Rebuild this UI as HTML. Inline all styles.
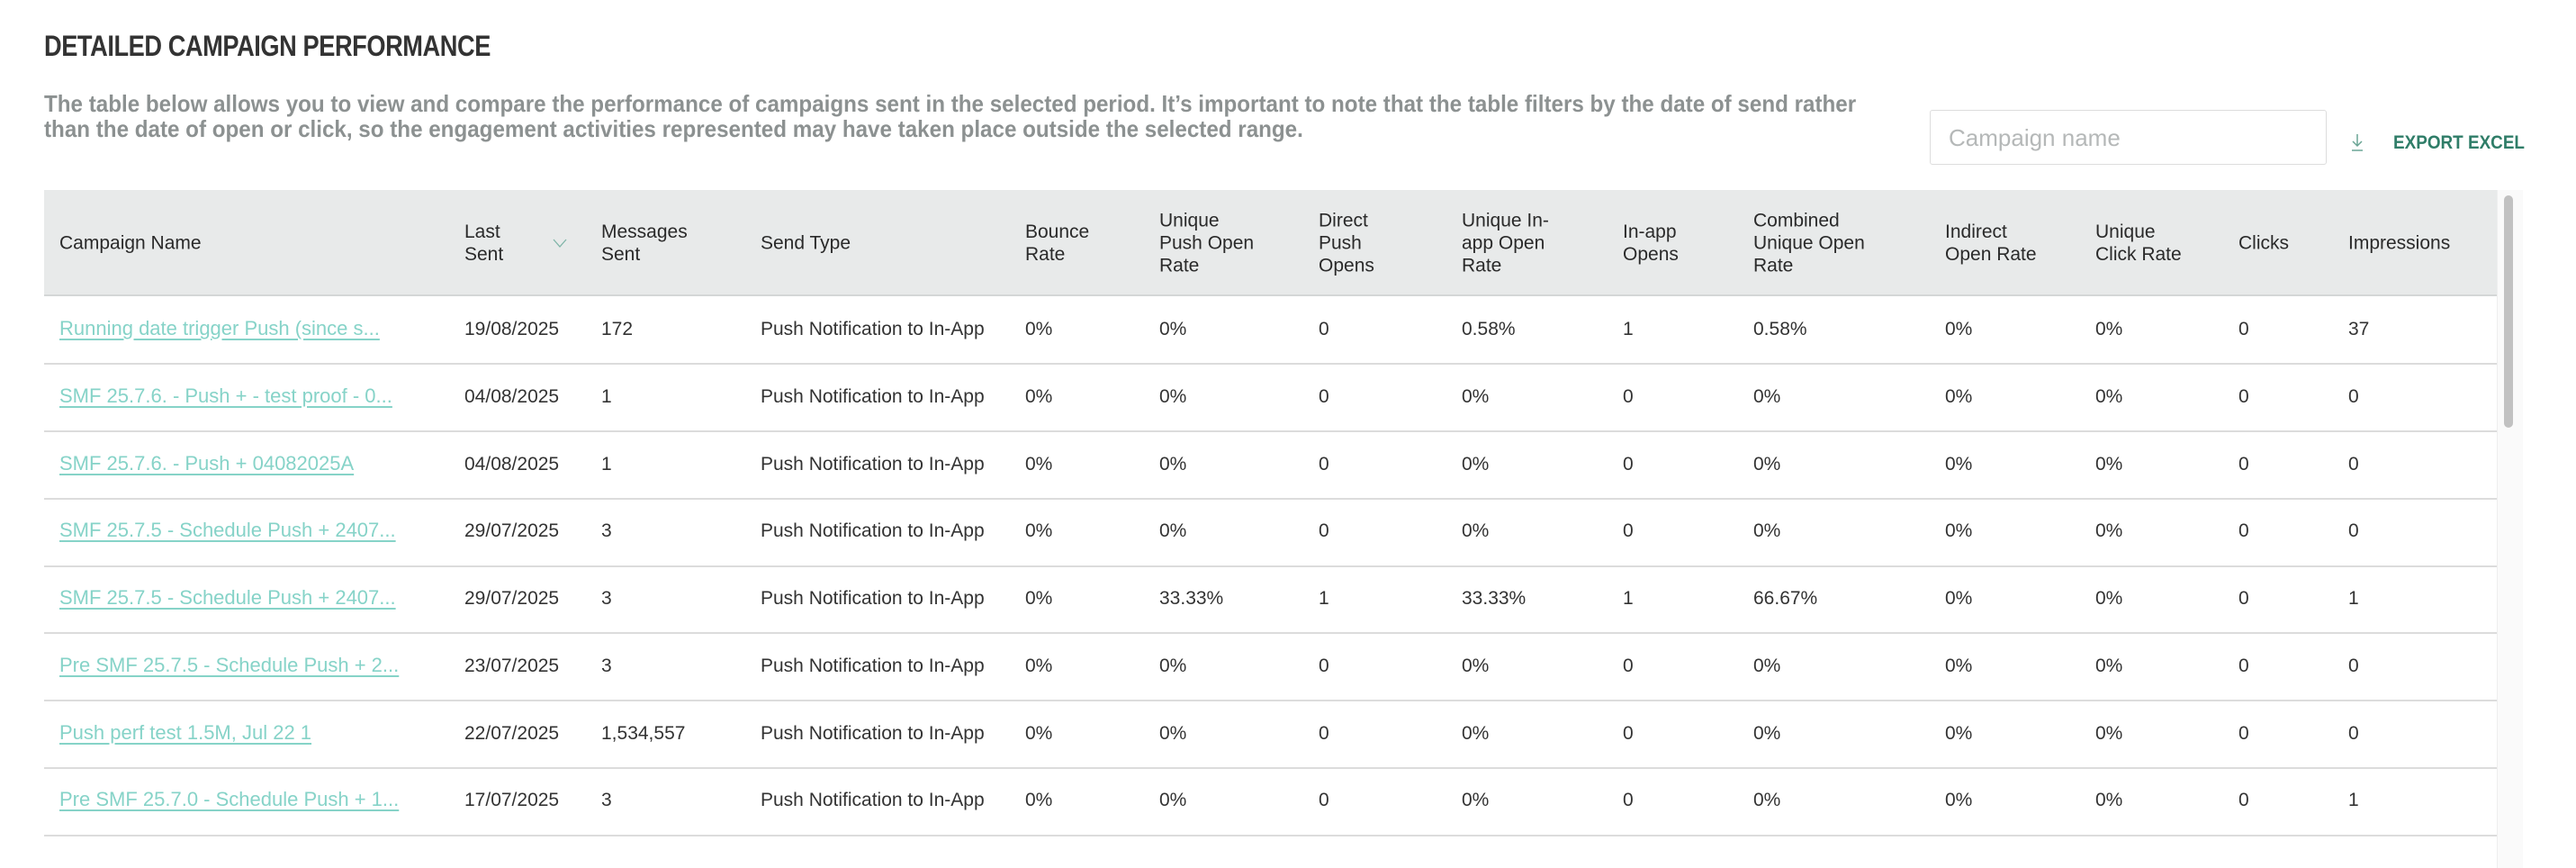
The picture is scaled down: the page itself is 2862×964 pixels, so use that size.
<!DOCTYPE html>
<html><head><meta charset="utf-8"><style>
*{margin:0;padding:0;box-sizing:border-box}
body{width:2862px;height:964px;background:#fff;position:relative;overflow:hidden;font-family:"Liberation Sans",Arial,sans-serif;color:#333}
.a{position:absolute;white-space:nowrap}
h1{position:absolute;left:49px;top:33px;font-size:32px;font-weight:bold;color:#333;letter-spacing:-0.5px;white-space:nowrap;transform:scaleX(0.85);transform-origin:left}
.desc{position:absolute;left:49px;top:101px;font-size:26px;line-height:28px;font-weight:bold;color:#8c9191;white-space:nowrap;transform:scaleX(0.93);transform-origin:left}
.search{position:absolute;left:2144px;top:122px;width:441px;height:61px;border:1.5px solid #ddd;border-radius:3px}
.search span{position:absolute;left:20px;top:15px;font-size:26px;color:#b5b8b8}
.exp{position:absolute;left:2659px;top:147px;font-size:21px;font-weight:bold;color:#2f7d68;transform:scaleX(0.9);transform-origin:left}
.thead{position:absolute;left:49px;top:211px;width:2725px;height:118px;background:#e8eaea;border-bottom:2px solid #d4d6d6}
.th{position:absolute;font-size:21px;line-height:25px;color:#2a2a2a;transform:translateY(-50%);top:270px}
.ln{position:absolute;left:49px;width:2725px;height:1.5px;background:#dcdcdc}
.r{position:absolute;left:0;width:2774px;height:40px}
.r div{position:absolute;top:8px;font-size:21px;color:#333;white-space:nowrap}
.r .c0{left:66px;top:6px;font-size:22px;color:#86d3c8;text-decoration:underline;text-decoration-thickness:2px;text-underline-offset:4px}
.c1{left:516px}.c2{left:668px}.c3{left:845px}.c4{left:1139px}.c5{left:1288px}.c6{left:1465px}.c7{left:1624px}.c8{left:1803px}.c9{left:1948px}.c10{left:2161px}.c11{left:2328px}.c12{left:2487px}.c13{left:2609px}
.track{position:absolute;left:2774px;top:211px;width:29px;height:753px;background:#fafafa;border-left:1px solid #eee}
.thumb{position:absolute;left:2782px;top:217px;width:10px;height:258px;background:#c1c1c1;border-radius:5px}
</style></head><body>
<h1>DETAILED CAMPAIGN PERFORMANCE</h1>
<div class="desc">The table below allows you to view and compare the performance of campaigns sent in the selected period. It’s important to note that the table filters by the date of send rather<br>than the date of open or click, so the engagement activities represented may have taken place outside the selected range.</div>
<div class="search"><span>Campaign name</span></div>
<svg class="a" style="left:2612px;top:148px" width="14" height="20" viewBox="0 0 14 20"><path d="M7 1v13M2 9l5 5 5-5M1 19h12" stroke="#6aa595" stroke-width="1.5" fill="none"/></svg>
<div class="a exp">EXPORT EXCEL</div>
<div class="thead"></div>
<div class="track"></div><div class="thumb"></div>
<div class="a th" style="left:66px">Campaign Name</div>
<div class="a th" style="left:516px">Last<br>Sent</div>
<svg class="a" style="left:614px;top:265px" width="16" height="10"><path d="M1 1l7 8 7-8" stroke="#7fb5a8" stroke-width="1.3" fill="none"/></svg>
<div class="a th" style="left:668px">Messages<br>Sent</div>
<div class="a th" style="left:845px">Send Type</div>
<div class="a th" style="left:1139px">Bounce<br>Rate</div>
<div class="a th" style="left:1288px">Unique<br>Push Open<br>Rate</div>
<div class="a th" style="left:1465px">Direct<br>Push<br>Opens</div>
<div class="a th" style="left:1624px">Unique In-<br>app Open<br>Rate</div>
<div class="a th" style="left:1803px">In-app<br>Opens</div>
<div class="a th" style="left:1948px">Combined<br>Unique Open<br>Rate</div>
<div class="a th" style="left:2161px">Indirect<br>Open Rate</div>
<div class="a th" style="left:2328px">Unique<br>Click Rate</div>
<div class="a th" style="left:2487px">Clicks</div>
<div class="a th" style="left:2609px">Impressions</div>

<div class="ln" style="top:403px"></div><div class="ln" style="top:478px"></div><div class="ln" style="top:553px"></div><div class="ln" style="top:628px"></div><div class="ln" style="top:702px"></div><div class="ln" style="top:777px"></div><div class="ln" style="top:852px"></div><div class="ln" style="top:927px"></div>

<div class="r" style="top:346px"><div class="c0">Running date trigger Push (since s...</div><div class="c1">19/08/2025</div><div class="c2">172</div><div class="c3">Push Notification to In-App</div><div class="c4">0%</div><div class="c5">0%</div><div class="c6">0</div><div class="c7">0.58%</div><div class="c8">1</div><div class="c9">0.58%</div><div class="c10">0%</div><div class="c11">0%</div><div class="c12">0</div><div class="c13">37</div></div>
<div class="r" style="top:421px"><div class="c0">SMF 25.7.6. - Push + - test proof - 0...</div><div class="c1">04/08/2025</div><div class="c2">1</div><div class="c3">Push Notification to In-App</div><div class="c4">0%</div><div class="c5">0%</div><div class="c6">0</div><div class="c7">0%</div><div class="c8">0</div><div class="c9">0%</div><div class="c10">0%</div><div class="c11">0%</div><div class="c12">0</div><div class="c13">0</div></div>
<div class="r" style="top:496px"><div class="c0">SMF 25.7.6. - Push + 04082025A</div><div class="c1">04/08/2025</div><div class="c2">1</div><div class="c3">Push Notification to In-App</div><div class="c4">0%</div><div class="c5">0%</div><div class="c6">0</div><div class="c7">0%</div><div class="c8">0</div><div class="c9">0%</div><div class="c10">0%</div><div class="c11">0%</div><div class="c12">0</div><div class="c13">0</div></div>
<div class="r" style="top:570px"><div class="c0">SMF 25.7.5 - Schedule Push + 2407...</div><div class="c1">29/07/2025</div><div class="c2">3</div><div class="c3">Push Notification to In-App</div><div class="c4">0%</div><div class="c5">0%</div><div class="c6">0</div><div class="c7">0%</div><div class="c8">0</div><div class="c9">0%</div><div class="c10">0%</div><div class="c11">0%</div><div class="c12">0</div><div class="c13">0</div></div>
<div class="r" style="top:645px"><div class="c0">SMF 25.7.5 - Schedule Push + 2407...</div><div class="c1">29/07/2025</div><div class="c2">3</div><div class="c3">Push Notification to In-App</div><div class="c4">0%</div><div class="c5">33.33%</div><div class="c6">1</div><div class="c7">33.33%</div><div class="c8">1</div><div class="c9">66.67%</div><div class="c10">0%</div><div class="c11">0%</div><div class="c12">0</div><div class="c13">1</div></div>
<div class="r" style="top:720px"><div class="c0">Pre SMF 25.7.5 - Schedule Push + 2...</div><div class="c1">23/07/2025</div><div class="c2">3</div><div class="c3">Push Notification to In-App</div><div class="c4">0%</div><div class="c5">0%</div><div class="c6">0</div><div class="c7">0%</div><div class="c8">0</div><div class="c9">0%</div><div class="c10">0%</div><div class="c11">0%</div><div class="c12">0</div><div class="c13">0</div></div>
<div class="r" style="top:795px"><div class="c0">Push perf test 1.5M, Jul 22 1</div><div class="c1">22/07/2025</div><div class="c2">1,534,557</div><div class="c3">Push Notification to In-App</div><div class="c4">0%</div><div class="c5">0%</div><div class="c6">0</div><div class="c7">0%</div><div class="c8">0</div><div class="c9">0%</div><div class="c10">0%</div><div class="c11">0%</div><div class="c12">0</div><div class="c13">0</div></div>
<div class="r" style="top:869px"><div class="c0">Pre SMF 25.7.0 - Schedule Push + 1...</div><div class="c1">17/07/2025</div><div class="c2">3</div><div class="c3">Push Notification to In-App</div><div class="c4">0%</div><div class="c5">0%</div><div class="c6">0</div><div class="c7">0%</div><div class="c8">0</div><div class="c9">0%</div><div class="c10">0%</div><div class="c11">0%</div><div class="c12">0</div><div class="c13">1</div></div>
</body></html>
